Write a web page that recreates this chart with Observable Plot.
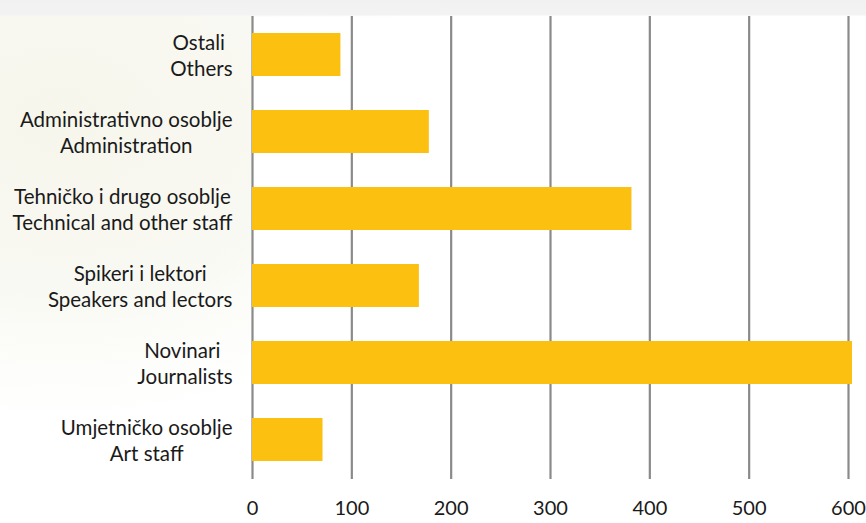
<!DOCTYPE html>
<html>
<head>
<meta charset="utf-8">
<script src="https://cdn.jsdelivr.net/npm/d3@7"></script>
<script src="https://cdn.jsdelivr.net/npm/@observablehq/plot@0.6"></script>
<style>
  html, body { margin: 0; padding: 0; }
  body {
    width: 866px; height: 523px; overflow: hidden;
    background:
      linear-gradient(to bottom, #f1f1f2 0px, #f3f3f3 15px, rgba(255,255,255,0) 16px),
      radial-gradient(ellipse 420px 300px at 60px 120px, #f6f6ec 0%, #f9f9f3 55%, #ffffff 100%);
    background-color: #fff;
  }
  #chart svg { display: block; }
  #chart svg text { white-space: pre; }
</style>
</head>
<body>
<div id="chart"></div>
<script>
const categories = [
  "Ostali \nOthers",
  "Administrativno osoblje\nAdministration",
  "Tehničko i drugo osoblje\nTechnical and other staff",
  "Spikeri i lektori\nSpeakers and lectors",
  "Novinari \nJournalists",
  "Umjetničko osoblje\nArt staff"
];
const values = [89, 178, 382, 168, 604, 71];
const xTicks = [0, 100, 200, 300, 400, 500, 600];

const labelFont = "Lato, 'Open Sans', sans-serif";
const labelSize = 20.5;

// measure each label block so its lines can be centred on each other, block right-aligned
const ctx = document.createElement("canvas").getContext("2d");
ctx.font = `${labelSize}px ${labelFont}`;
const blockWidth = c => Math.max(...c.split("\n").map(l => ctx.measureText(l).width));

const data = categories.map((c, i) => ({category: c, value: values[i], w: blockWidth(c)}));

const chart = Plot.plot({
  width: 866,
  height: 523,
  marginTop: 16,
  marginBottom: 44,
  marginLeft: 252,
  marginRight: 18,
  style: {background: "transparent", fontFamily: labelFont, color: "#1a1a1a"},
  x: {domain: [0, 600], ticks: xTicks, label: null},
  y: {domain: categories, paddingInner: 0.44, paddingOuter: 0.22, label: null, axis: null},
  marks: [
    Plot.frame({fill: "white", stroke: "none"}),
    Plot.gridX(xTicks, {stroke: "#8a8a8a", strokeOpacity: 1, strokeWidth: 2.2}),
    Plot.barX(data, {x: "value", y: "category", fill: "#fcc010"}),
    Plot.axisX(xTicks, {tickSize: 0, tickPadding: 21, fontSize: 20, fill: "#1a1a1a", label: null, tickFormat: d => String(d)}),
    ...data.map(d => Plot.text([d], {
      y: "category", text: "category", frameAnchor: "left",
      textAnchor: "middle", dx: -20 - d.w / 2,
      fontSize: labelSize, lineHeight: 1.27, fill: "#1a1a1a"
    }))
  ]
});
document.getElementById("chart").appendChild(chart);
</script>
</body>
</html>
